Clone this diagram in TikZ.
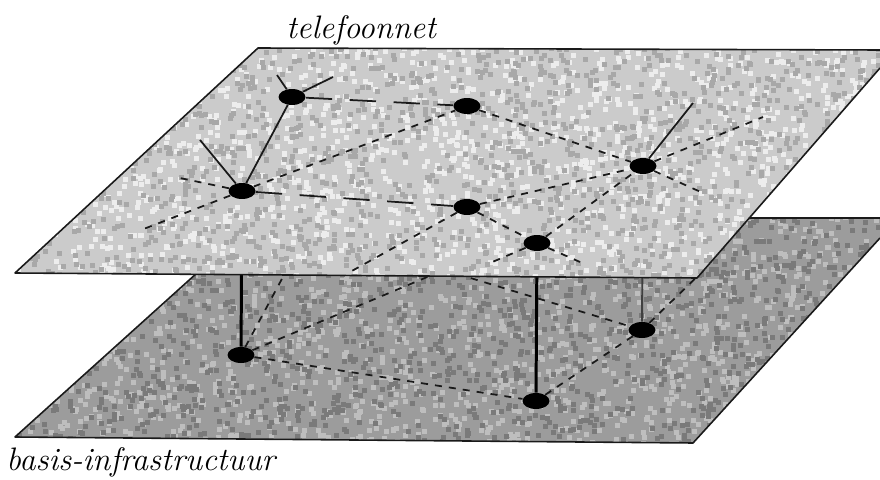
\documentclass[tikz,border=0pt]{standalone}
\usepackage{tikz}
\usetikzlibrary{shapes.geometric, positioning}
\definecolor{clrTop}{HTML}{CBCBCB}
\definecolor{clrTopLt}{HTML}{EDEDED}
\definecolor{clrTopDk}{HTML}{A8A8A8}
\definecolor{clrBase}{HTML}{9C9C9C}
\definecolor{clrBaseLt}{HTML}{BEBEBE}
\definecolor{clrBaseDk}{HTML}{7A7A7A}
\definecolor{clrEdge}{HTML}{1A1A1A}
\pgfdeclarelayer{lower}
\pgfdeclarelayer{upper}
\pgfsetlayers{lower,upper,main}
\tikzset{
  edge/.style = {draw=clrEdge, line width=0.9pt, line join=round},
  hub/.style = {ellipse, fill=black, inner sep=0pt, minimum width=0.54cm, minimum height=0.32cm},
  link/.style = {line width=1pt, color=clrEdge},
  longlink/.style = {link, dash pattern=on 15pt off 10pt},
  shortlink/.style = {link, dash pattern=on 4pt off 4pt},
  riser/.style = {line width=1.7pt, color=black},
  planename/.style = {font=\fontsize{18.5}{22}\selectfont\itshape, inner sep=0pt},
}
% grain on a plane: x0, y0, width, height, count, colour
\newcommand{\speckle}[6]{%
  \foreach \k in {1,...,#5} {
    \pgfmathsetmacro{\sx}{#1+rnd*#3}
    \pgfmathsetmacro{\sy}{#2+rnd*#4}
    \fill[#6] (\sx,\sy) rectangle ++(5,5);
  }}

\begin{document}
\begin{tikzpicture}[x=0.02cm, y=-0.02cm]
\useasboundingbox (0,0) rectangle (880,480);
\pgfmathsetseed{4711}

% Planes
\begin{pgfonlayer}{lower}
  \begin{scope}
    \clip (258,218) -- (880,218) -- (880,238) -- (693,443) -- (15,437) -- cycle;
    \fill[clrBase] (0,210) rectangle (880,450);
    \speckle{15}{214}{865}{230}{1600}{clrBaseLt}
    \speckle{15}{214}{865}{230}{1600}{clrBaseDk}
  \end{scope}
  \draw[edge] (880,238) -- (693,443) -- (15,437) -- (258,218) -- (880,218);
\end{pgfonlayer}
\begin{pgfonlayer}{upper}
  \begin{scope}
    \clip (258,48) -- (880,50) -- (880,68) -- (697,278) -- (15,273) -- cycle;
    \fill[clrTop] (0,40) rectangle (880,285);
    \speckle{15}{44}{865}{236}{1600}{clrTopLt}
    \speckle{15}{44}{865}{236}{1600}{clrTopDk}
  \end{scope}
  \draw[edge] (880,50) -- (258,48) -- (15,273) -- (697,278) -- (880,68);
\end{pgfonlayer}

% Telephone network
\node[hub] (a) at (292,97) {};
\node[hub] (b) at (467,106) {};
\node[hub] (c) at (643,166) {};
\node[hub] (d) at (242,191) {};
\node[hub] (e) at (467,207) {};
\node[hub] (f) at (537,243) {};

% Base infrastructure
\node[hub] (g) at (241,355) {};
\node[hub] (h) at (642,330) {};
\node[hub] (i) at (536,401) {};
\coordinate (j) at (444,270);

% Loose ends
\coordinate (a1) at (277,75);
\coordinate (a2) at (333,77);
\coordinate (d1) at (200,140);
\coordinate (d2) at (175,177);
\coordinate (d3) at (141,230);
\coordinate (c1) at (693,103);
\coordinate (c2) at (763,117);
\coordinate (c3) at (703,193);
\coordinate (e1) at (350,272);
\coordinate (f1) at (490,263);
\coordinate (f2) at (580,262);
\coordinate (g1) at (291,262);
\coordinate (h1) at (703,271);

\draw[link] (a) -- (d);
\draw[longlink] (a) -- (b);
\draw[longlink] (d) -- (e);
\draw[shortlink] (d) -- (b);
\draw[shortlink] (b) -- (c);
\draw[shortlink] (e) -- (c);
\draw[shortlink] (e) -- (f);
\draw[shortlink] (f) -- (c);

\foreach \from/\to in {a/a1, a/a2, d/d1, c/c1}
  \draw[link] (\from) -- (\to);
\foreach \from/\to in {d/d2, d/d3, c/c2, c/c3, e/e1, f/f1, f/f2}
  \draw[shortlink] (\from) -- (\to);

\begin{pgfonlayer}{lower}
  \draw[riser] (d) -- (g);
  \draw[riser] (f) -- (i);
  \draw[riser, line width=1.1pt, color=black!75] (c) -- (h);
  \draw[shortlink] (g) -- (j);
  \draw[shortlink] (j) -- (h);
  \draw[shortlink] (g) -- (i);
  \draw[shortlink] (i) -- (h);
  \draw[shortlink] (g) -- (g1);
  \draw[shortlink] (h) -- (h1);
\end{pgfonlayer}

% Plane names
\node[planename, anchor=base west] (toplabel) at (286,38) {telefoonnet};
\node[planename, anchor=base west] (baselabel) at (6,470) {basis-infrastructuur};
\end{tikzpicture}
\end{document}
